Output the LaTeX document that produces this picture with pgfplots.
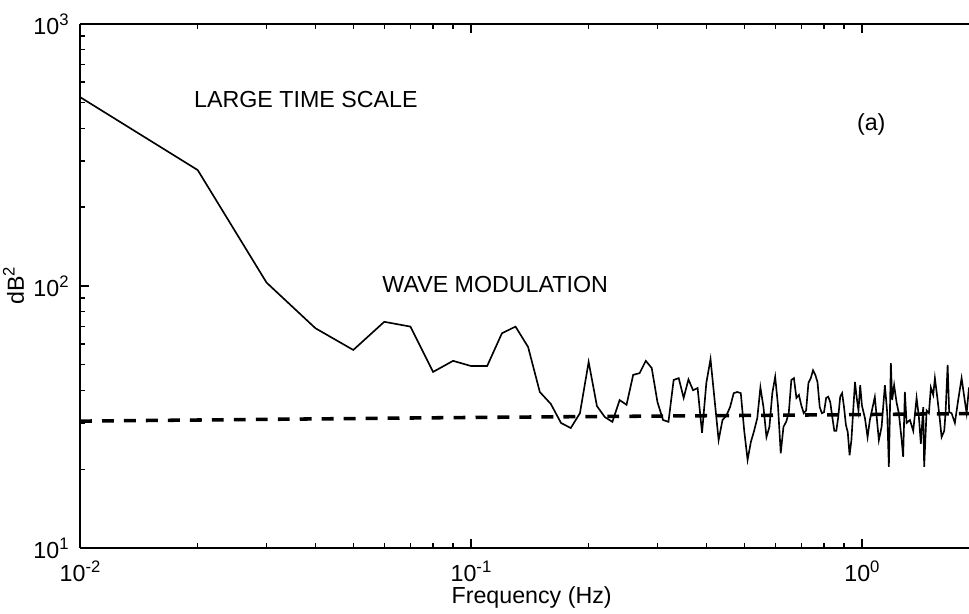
\documentclass[border=0pt]{standalone}
\usepackage{fontspec}
\setmainfont{Liberation Sans}
\usepackage{pgfplots}
\pgfplotsset{compat=1.18}
\usetikzlibrary{calc}

% power spectrum (f in Hz, dB^2)
\pgfplotstableread{
f     p
0.01  526
0.02  277
0.03  103
0.04  69
0.05  57
0.06  73
0.07  70
0.08  47
0.09  51.8
0.10  49.5
0.11  49.5
0.12  66
0.13  70
0.14  58.5
0.15  39.4
0.16  35.5
0.17  30
0.18  28.7
0.19  32.7
0.20  51.3
0.21  34.8
0.22  31.6
0.23  30.3
0.24  36.7
0.25  35.2
0.26  45.8
0.27  46.5
0.28  51.8
0.29  48.6
0.30  36
0.31  30.8
0.32  30.3
0.33  43.8
0.34  44.5
0.35  37.4
0.36  44
0.37  40
0.38  40.8
0.39  27.5
0.40  42.7
0.41  52.6
0.42  36.7
0.43  25.8
0.44  30.8
0.45  32
0.46  34.5
0.47  39
0.48  39.4
0.49  39
0.50  28
0.51  21.7
0.52  25.4
0.53  28
0.54  31.3
0.55  41
0.56  34.5
0.57  26.5
0.58  29
0.59  39
0.60  45
0.61  35
0.62  23
0.63  29
0.64  30.3
0.65  32.7
0.66  43.8
0.67  44.5
0.68  37.4
0.69  38.4
0.70  35
0.71  32.7
0.72  33.5
0.73  42.7
0.74  44.5
0.75  47.7
0.76  45.8
0.77  43
0.78  34.5
0.79  32.7
0.80  33
0.81  37.4
0.82  37.8
0.83  36
0.84  31.6
0.85  28
0.86  28
0.87  31.6
0.88  37.8
0.89  39
0.90  34.5
0.91  29.5
0.92  27.7
0.93  22.6
0.94  25.8
0.95  33.5
0.96  43
0.97  37.4
0.98  33.5
0.99  41.8
1.00  35
1.018 31.3
1.034 26.5
1.048 30.8
1.079 37.7
1.105 25.8
1.123 29
1.145 41.8
1.161 32.7
1.172 20.4
1.186 50.8
1.195 36.7
1.209 41.8
1.227 35.8
1.243 32.7
1.264 25.8
1.275 22.3
1.288 39.4
1.301 30
1.327 30.8
1.353 28
1.380 37.4
1.399 31.6
1.415 25
1.435 34.5
1.443 20.4
1.464 33.5
1.484 32.7
1.501 41
1.522 38.4
1.537 44.5
1.562 36.7
1.583 30.8
1.599 26.5
1.624 28
1.637 33
1.657 50
1.672 33
1.696 32.7
1.729 30
1.763 36.7
1.799 44.5
1.827 37.8
1.853 32.7
1.879 41
}\spectrum

% fitted background level (dashed)
\pgfplotstableread{
f     p
0.01  30.5
0.1   31.5
1.0   32.3
1.879 32.6
}\background

\newcommand{\sps}[1]{\raisebox{0.75ex}{\fontsize{6.6}{7}\selectfont #1}}

\begin{document}
\begin{tikzpicture}[font=\fontsize{9.2}{11}\selectfont]
\begin{axis}[
  scale only axis,
  width=352pt, height=207.5pt,
  xmode=log, ymode=log,
  xmin=0.01, xmax=1.879,
  ymin=10, ymax=1000,
  axis x line*=box,
  axis y line*=left,
  axis line style={line width=0.8pt},
  tick align=inside,
  major tick length=3.5pt,
  minor tick length=1.8pt,
  every tick/.style={black, line width=0.5pt},
  xtick={0.01,0.1,1},
  xticklabels={10\sps{-2},10\sps{-1},10\sps{0}},
  minor xtick={0.02,0.03,0.04,0.05,0.06,0.07,0.08,0.09,0.2,0.3,0.4,0.5,0.6,0.7,0.8,0.9},
  ytick={10,100,1000},
  yticklabels={10\sps{1},10\sps{2},10\sps{3}},
  minor ytick={20,30,40,50,60,70,80,90,200,300,400,500,600,700,800,900},
  xticklabel style={yshift=-1.5pt},
  yticklabel style={xshift=-1pt},
  xlabel={Frequency (Hz)},
  ylabel={dB\sps{2}},
  every axis x label/.style={at={(rel axis cs:0.508,0)}, yshift=-19.4pt, anchor=center},
  every axis y label/.style={at={(rel axis cs:0,0.5)}, xshift=-26.3pt, rotate=90, anchor=center},
  clip=true,
]
\addplot[black, line width=0.65pt] table[x=f, y=p] {\spectrum};
\addplot[black, line width=1.4pt, dash pattern=on 4.7pt off 4pt] table[x=f, y=p] {\background};
\node at (rel axis cs:0.254,0.855) {LARGE TIME SCALE};
\node at (rel axis cs:0.467,0.502) {WAVE MODULATION};
\node at (rel axis cs:0.890,0.809) {(a)};
\coordinate (sw) at (rel axis cs:0,0);
\coordinate (ne) at (rel axis cs:1,1);
\end{axis}
\pgfresetboundingbox
\useasboundingbox ($(sw)+(-31.7pt,-26.1pt)$) rectangle ($(ne)+(0pt,9.5pt)$);
\end{tikzpicture}
\end{document}
